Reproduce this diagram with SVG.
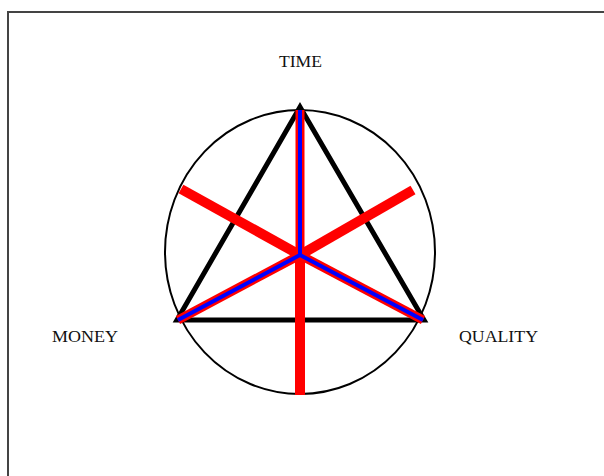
<svg xmlns="http://www.w3.org/2000/svg" width="604" height="476" viewBox="0 0 604 476">
<style>
.lbl{font-family:"Liberation Serif","Times New Roman",serif;font-size:16.5px;fill:#111;lengthAdjust:spacingAndGlyphs}
.tri{fill:none;stroke:#000;stroke-width:5;stroke-linejoin:miter}
.red{stroke:#ff0000;stroke-width:10;stroke-linecap:butt}
.redn{stroke:#ff0000;stroke-width:9;stroke-linecap:butt}
.blue{stroke:#0000ff;stroke-width:4;stroke-linecap:butt}
</style>
<rect x="0" y="0" width="604" height="476" fill="#fff"/>
<rect x="8" y="12" width="610" height="480" fill="none" stroke="#444" stroke-width="2"/>
<g id="circle">
<ellipse cx="300" cy="252" rx="135" ry="142" fill="none" stroke="#000" stroke-width="2"/>
</g>
<g id="triangle">
<polygon class="tri" points="300,107 177,320 424,320"/>
</g>
<g id="connectors">
<line class="red" x1="300" y1="255" x2="300" y2="395"/>
<line class="red" x1="300" y1="255" x2="181" y2="189"/>
<line class="red" x1="300" y1="255" x2="413" y2="190"/>
<line class="redn" x1="300" y1="255" x2="300" y2="110"/>
<line class="redn" x1="300" y1="255" x2="178" y2="320"/>
<line class="redn" x1="300" y1="255" x2="423" y2="320"/>
<line class="blue" x1="300" y1="255" x2="300" y2="110"/>
<line class="blue" x1="300" y1="255" x2="178" y2="320"/>
<line class="blue" x1="300" y1="255" x2="423" y2="320"/>
</g>
<g id="time"><text class="lbl" x="279" y="67" textLength="43" lengthAdjust="spacingAndGlyphs">TIME</text></g>
<g id="money"><text class="lbl" x="52" y="342" textLength="66" lengthAdjust="spacingAndGlyphs">MONEY</text></g>
<g id="quality"><text class="lbl" x="459" y="342" textLength="79" lengthAdjust="spacingAndGlyphs">QUALITY</text></g>
</svg>
